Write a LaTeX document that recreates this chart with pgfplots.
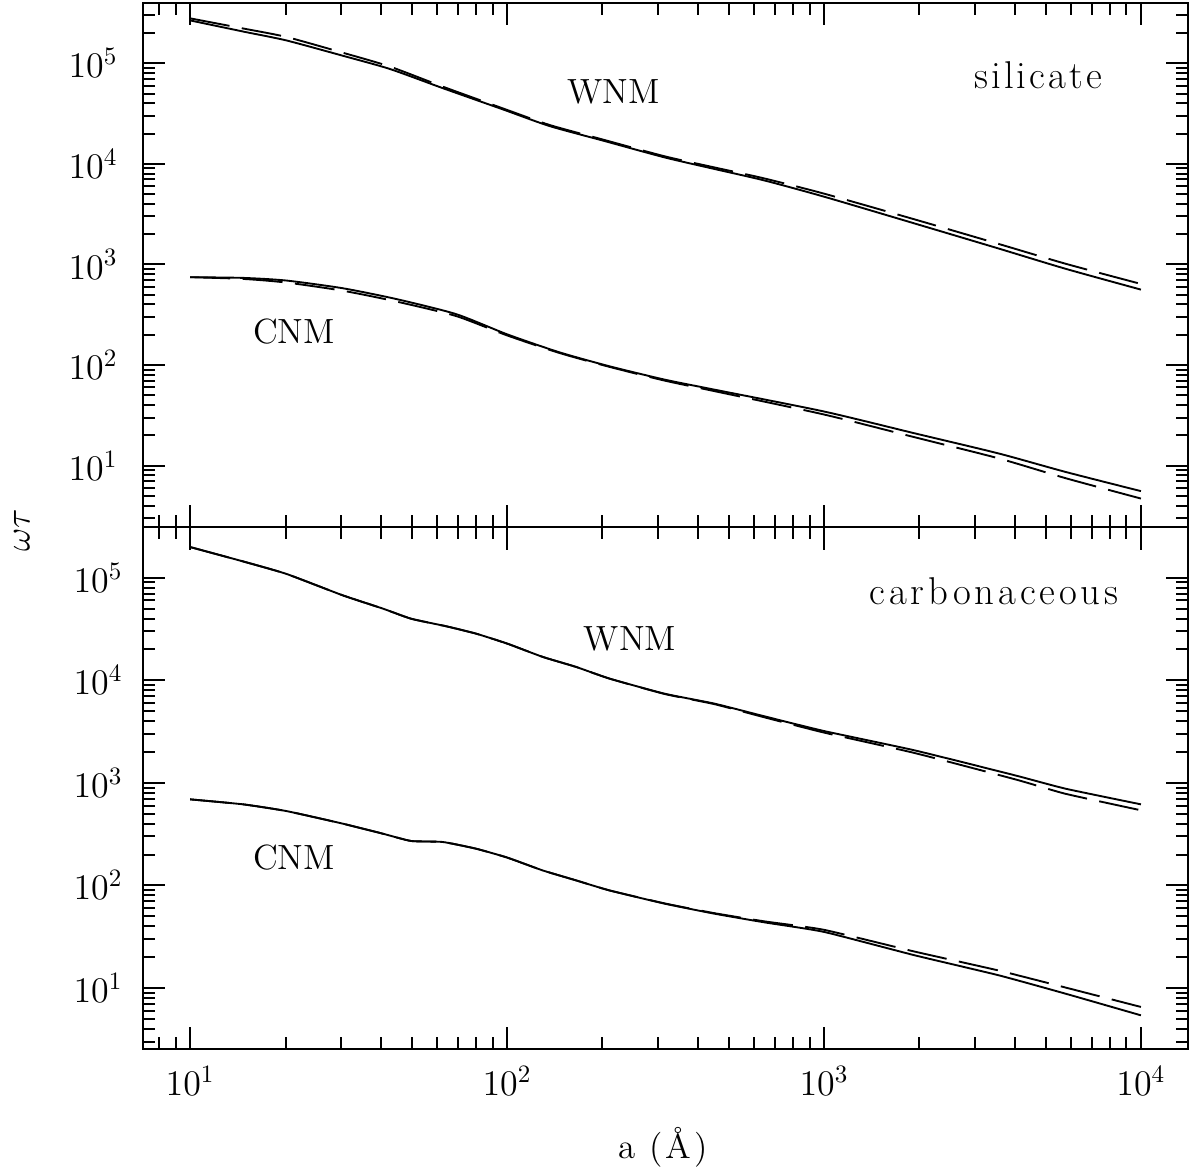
\documentclass[border=0pt]{standalone}
\usepackage{fontspec}
\usepackage{pgfplots}
\pgfplotsset{compat=1.18}
\newcommand{\fs}{\fontsize{14}{17}\selectfont}
\newcommand{\fsb}{\fontsize{15.5}{18}\selectfont}
\newfontfamily\spacedA{Latin Modern Roman}[LetterSpace=8]
\newfontfamily\spacedC{Latin Modern Roman}[LetterSpace=10]
\newfontfamily\spacedB{Latin Modern Roman}[LetterSpace=8]
\tikzset{
  mysol/.style={black, line width=0.75pt},
  mydas/.style={black, line width=0.75pt, dash pattern=on 16pt off 5pt},
}
\begin{document}
\fs
\begin{tikzpicture}
\path[use as bounding box] (-57.2pt,-50pt) rectangle (418.4pt,419.6pt);
% ---------- top panel: silicate
\begin{axis}[xmode=log, ymode=log, scale only axis, width=418pt,
  xmin=7.1, xmax=14080,
  axis line style={line width=0.8pt},
  major tick style={black, line width=0.8pt},
  minor tick style={black, line width=0.8pt},
  major tick length=9pt, minor tick length=4.8pt,
  tick align=inside,
  tick label style={font=\fs},
  clip=false,
  at={(0,208.8pt)}, anchor=south west, height=209.6pt,
  ymin=2.45, ymax=3.98e5, xticklabels={},
  yticklabel style={anchor=east, inner sep=0pt, xshift=-10pt}]
\addplot[mysol, smooth, tension=0.4] coordinates {(10,2.67e5)(14.7,2.07e5)(20.1,1.69e5)(30.3,1.19e5)(42.6,8.8e4)(62.7,5.66e4)(96.8,3.49e4)(136,2.38e4)(200,1.71e4)(314,1.16e4)(451,8.9e3)(649,6.84e3)(1000,4.72e3)(1936,2.55e3)(3556,1.44e3)(5780,906)(10000,562)};
\addplot[mydas, smooth, tension=0.4] coordinates {(10,2.80e5)(14.7,2.22e5)(20.1,1.83e5)(30.3,1.275e5)(42.6,9.3e4)(62.7,5.86e4)(96.8,3.57e4)(136,2.44e4)(200,1.75e4)(314,1.19e4)(451,9.22e3)(649,7.16e3)(1000,5.06e3)(1936,2.80e3)(3556,1.60e3)(5780,1017)(10000,640)};
\addplot[mysol, smooth, tension=0.4] coordinates {(10,747)(14.7,735)(20.1,692)(30.3,580)(44.7,453)(69,321)(100,202)(146,134)(210,97.3)(314,71.6)(451,56.9)(1000,34.5)(1936,20.9)(3556,13.2)(5780,8.65)(10000,5.57)};
\addplot[mydas, smooth, tension=0.4] coordinates {(10,747)(14.7,718)(20.1,661)(30.3,548)(44.7,428)(69,307)(100,197)(146,132)(210,96)(314,70)(451,55)(1000,32.2)(1936,19.1)(3556,11.8)(5780,7.5)(10000,4.7)};
\node[anchor=base, font=\fs] at (rel axis cs:0.450,0.809) {WNM};
\node[anchor=base, font=\fs] at (rel axis cs:0.1445,0.351) {CNM};
\node[anchor=base, font=\fsb] at (rel axis cs:0.8565,0.836) {\spacedA silicate};
\end{axis}
% ---------- bottom panel: carbonaceous
\begin{axis}[xmode=log, ymode=log, scale only axis, width=418pt,
  xmin=7.1, xmax=14080,
  axis line style={line width=0.8pt},
  major tick style={black, line width=0.8pt},
  minor tick style={black, line width=0.8pt},
  major tick length=9pt, minor tick length=4.8pt,
  tick align=inside,
  tick label style={font=\fs},
  clip=false,
  at={(0,0)}, anchor=south west, height=208.8pt,
  ymin=2.54, ymax=3.12e5,
  xticklabel style={anchor=north, inner sep=0pt, yshift=-6.8pt},
  yticklabel style={anchor=east, inner sep=0pt, xshift=-8pt},
  xlabel={\spacedB a (Å)},
  xlabel style={at={(axis description cs:0.4976,0)}, anchor=base, yshift=-43.6pt, inner sep=0pt, font=\fs},
  ylabel={$\omega\tau$},
  ylabel style={at={(axis description cs:-0.1158,0.994)}, anchor=center, font=\fs}]
\addplot[mysol, smooth, tension=0.3] coordinates {(10,1.99e5)(14.7,1.44e5)(20.1,1.09e5)(30.3,6.73e4)(40.6,4.99e4)(49.8,3.98e4)(64.3,3.36e4)(79.8,2.85e4)(100,2.28e4)(129.5,1.69e4)(165,1.35e4)(210,1.04e4)(314,7.4e3)(451,5.92e3)(649,4.45e3)(1000,3.2e3)(1936,2.07e3)(4018,1.18e3)(5780,877)(10000,617)};
\addplot[mydas, smooth, tension=0.3] coordinates {(10,1.99e5)(14.7,1.44e5)(20.1,1.09e5)(30.3,6.73e4)(40.6,4.99e4)(49.8,3.98e4)(64.3,3.36e4)(79.8,2.85e4)(100,2.28e4)(129.5,1.69e4)(165,1.35e4)(210,1.04e4)(314,7.35e3)(451,5.85e3)(649,4.35e3)(1000,3.09e3)(1936,1.95e3)(4018,1.08e3)(5780,782)(10000,540)};
\addplot[mysol, smooth, tension=0.3] coordinates {(10,690)(14.7,617)(20.1,531)(30.3,400)(40.6,319)(49.8,271)(62.7,265)(79.8,228)(100,187)(129.5,140)(165,112)(210,89.5)(314,66.4)(451,53)(649,43.6)(1000,35.2)(1936,20.8)(3556,13.3)(5780,8.8)(10000,5.41)};
\addplot[mydas, smooth, tension=0.3] coordinates {(10,690)(14.7,617)(20.1,531)(30.3,400)(40.6,319)(49.8,271)(62.7,265)(79.8,228)(100,187)(129.5,140)(165,112)(210,89.5)(314,66.8)(451,53.6)(649,44.6)(1000,36.9)(1936,22.6)(3556,14.8)(5780,10.1)(10000,6.53)};
\node[anchor=base, font=\fs] at (rel axis cs:0.466,0.764) {WNM};
\node[anchor=base, font=\fs] at (rel axis cs:0.1445,0.343) {CNM};
\node[anchor=base, font=\fsb] at (rel axis cs:0.8144,0.8525) {\spacedC carbonaceous};
\end{axis}
\end{tikzpicture}
\end{document}
